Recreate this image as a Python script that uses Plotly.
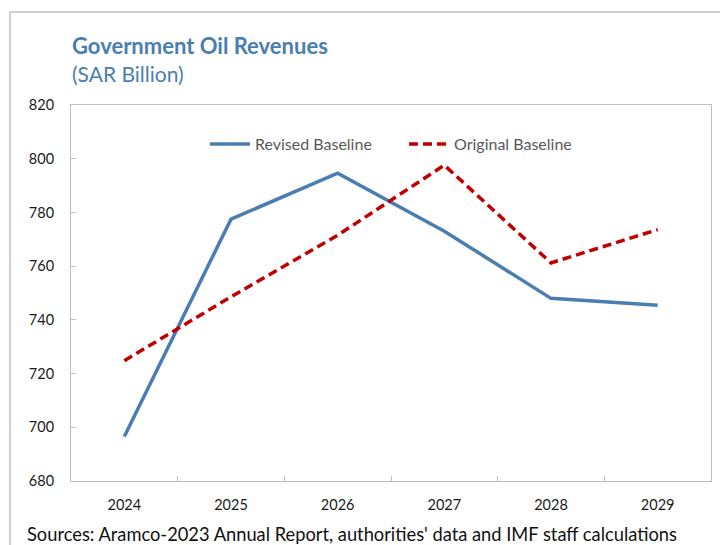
import plotly.graph_objects as go

years = ["2024", "2025", "2026", "2027", "2028", "2029"]
revised = [696.6, 777.5, 794.6, 773.0, 748.0, 745.4]
original = [724.8, 748.6, 771.5, 797.6, 761.2, 773.6]
y_ticks = [680, 700, 720, 740, 760, 780, 800, 820]

BLUE = "#4A7EB0"
RED = "#C00000"
FONT = "Lato, Carlito, 'Liberation Sans', sans-serif"

W, H = 720, 545
ml, mr, mt, mb = 71, 9, 105, 64
pw, ph = W - ml - mr, H - mt - mb

def px(xp):
    return (xp - ml) / pw

def py(yp):
    return (H - mb - yp) / ph

fig = go.Figure()
fig.add_trace(go.Scatter(x=years, y=revised, mode="lines", name="Revised Baseline",
                         line=dict(color=BLUE, width=3.5), legend="legend"))
fig.add_trace(go.Scatter(x=years, y=original, mode="lines", name="Original Baseline",
                         line=dict(color=RED, width=3.5, dash="9px,5px"), legend="legend2"))

leg_common = dict(orientation="h", yanchor="middle", xanchor="left",
                  font=dict(size=16, color="#595959", family=FONT),
                  bgcolor="rgba(0,0,0,0)", itemwidth=40)

fig.update_layout(
    width=W, height=H,
    margin=dict(l=ml, r=mr, t=mt, b=mb),
    paper_bgcolor="white", plot_bgcolor="white",
    font=dict(family=FONT, size=14.5, color="#1a1a1a"),
    showlegend=True,
    legend=dict(x=px(205), y=py(144), **leg_common),
    legend2=dict(x=px(404), y=py(144), **leg_common),
    xaxis=dict(type="category", range=[-0.5, 5.5], showgrid=False, showline=True,
               linecolor="#BFBFBF", linewidth=1, mirror=True, ticks="inside",
               tickson="boundaries", ticklen=5, tickcolor="#BFBFBF",
               ticklabelstandoff=11, tickfont=dict(size=14.5, color="#1a1a1a")),
    yaxis=dict(range=[680, 820], tickvals=y_ticks, showgrid=False, showline=True,
               linecolor="#BFBFBF", linewidth=1, mirror=True, ticks="inside",
               ticklen=5, tickcolor="#BFBFBF", zeroline=False, ticklabelstandoff=13,
               tickfont=dict(size=14.5, color="#1a1a1a")),
    shapes=[
        dict(type="line", xref="paper", yref="paper", x0=px(10), x1=px(725),
             y0=py(12), y1=py(12), line=dict(color="#BFBFBF", width=1.5)),
        dict(type="line", xref="paper", yref="paper", x0=px(10), x1=px(10),
             y0=py(12), y1=py(550), line=dict(color="#BFBFBF", width=1.5)),
    ],
    annotations=[
        dict(text="<b>Government Oil Revenues</b>", xref="paper", yref="paper",
             x=px(70), y=py(45), xanchor="left", yanchor="middle", showarrow=False,
             font=dict(size=22, color=BLUE, family=FONT)),
        dict(text="(SAR Billion)", xref="paper", yref="paper",
             x=px(70), y=py(73), xanchor="left", yanchor="middle", showarrow=False,
             font=dict(size=21, color=BLUE, family=FONT)),
        dict(text="Sources: Aramco-2023 Annual Report, authorities' data and IMF staff calculations",
             xref="paper", yref="paper", x=px(25), y=py(534), xanchor="left",
             yanchor="middle", showarrow=False,
             font=dict(size=18.3, color="#111111", family=FONT)),
    ],
)

fig.write_html("out.html", config={"displayModeBar": False},
               post_script="document.body.style.margin='0px';")
